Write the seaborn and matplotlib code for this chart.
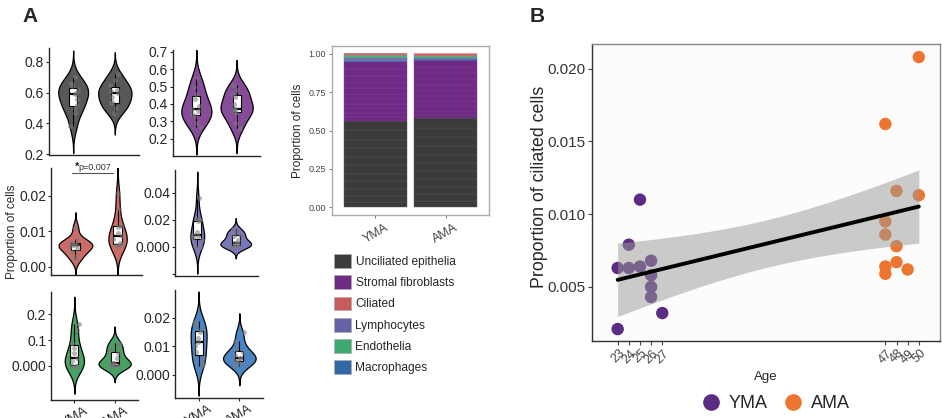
import numpy as np
import pandas as pd
import seaborn as sns
import matplotlib.pyplot as plt
from matplotlib.lines import Line2D
from matplotlib.patches import Patch

sns.set_style("ticks")
plt.rcParams['font.family'] = ['Liberation Sans', 'DejaVu Sans']

groups = ["YMA", "AMA"]
cell_types = ["Unciliated epithelia", "Stromal fibroblasts", "Ciliated",
              "Lymphocytes", "Endothelia", "Macrophages"]

# per-sample proportions (11 YMA, 11 AMA samples)
unciliated_yma = [0.38, 0.47, 0.50, 0.52, 0.56, 0.59, 0.60, 0.62, 0.64, 0.66, 0.70]
unciliated_ama = [0.47, 0.50, 0.53, 0.54, 0.57, 0.60, 0.61, 0.62, 0.65, 0.68, 0.72]
stromal_yma = [0.27, 0.29, 0.33, 0.34, 0.36, 0.37, 0.39, 0.43, 0.46, 0.50, 0.55]
stromal_ama = [0.26, 0.29, 0.35, 0.36, 0.37, 0.37, 0.40, 0.44, 0.46, 0.48, 0.51]
lympho_yma = [0.000, 0.001, 0.005, 0.007, 0.008, 0.009, 0.011, 0.019, 0.020, 0.021, 0.036]
lympho_ama = [0.000, 0.000, 0.001, 0.002, 0.003, 0.003, 0.005, 0.008, 0.009, 0.011, 0.013]
endo_yma = [0.000, 0.000, 0.000, 0.005, 0.020, 0.030, 0.050, 0.070, 0.090, 0.140, 0.160]
endo_ama = [0.000, 0.000, 0.002, 0.005, 0.010, 0.010, 0.030, 0.050, 0.060, 0.080, 0.090]
macro_yma = [0.003, 0.004, 0.006, 0.008, 0.010, 0.0115, 0.013, 0.015, 0.016, 0.018, 0.019]
macro_ama = [0.003, 0.004, 0.005, 0.005, 0.006, 0.006, 0.007, 0.008, 0.009, 0.012, 0.015]

# ciliated proportion with donor age (panel B)
ages_yma = [23, 23, 24, 24, 25, 25, 26, 26, 26, 26, 27]
ciliated_yma = [0.0063, 0.0021, 0.0079, 0.0063, 0.0110, 0.0064, 0.0068, 0.0058, 0.0050, 0.0043, 0.0032]
ages_ama = [47, 47, 47, 47, 47, 48, 48, 48, 49, 50, 50]
ciliated_ama = [0.0162, 0.0095, 0.0086, 0.0064, 0.0059, 0.0116, 0.0078, 0.0067, 0.0062, 0.0208, 0.0113]

# overall composition per group (stacked bar), same order as cell_types
comp_yma = [0.564, 0.386, 0.007, 0.014, 0.017, 0.012]
comp_ama = [0.580, 0.381, 0.012, 0.007, 0.012, 0.008]
stack_order = ["Unciliated epithelia", "Stromal fibroblasts", "Macrophages",
               "Lymphocytes", "Endothelia", "Ciliated"]

bar_colors = {"Unciliated epithelia": "#3B3B3B", "Stromal fibroblasts": "#6E2A84",
              "Ciliated": "#C85B5B", "Lymphocytes": "#6662A8",
              "Endothelia": "#3DAA73", "Macrophages": "#3467A8"}
violin_colors = {"Unciliated epithelia": "#585858", "Stromal fibroblasts": "#874C99",
                 "Ciliated": "#CC6B67", "Lymphocytes": "#7A78B8",
                 "Endothelia": "#46A163", "Macrophages": "#4B85C3"}

samples = {
    "Unciliated epithelia": (unciliated_yma, unciliated_ama),
    "Stromal fibroblasts": (stromal_yma, stromal_ama),
    "Ciliated": (ciliated_yma, ciliated_ama),
    "Lymphocytes": (lympho_yma, lympho_ama),
    "Endothelia": (endo_yma, endo_ama),
    "Macrophages": (macro_yma, macro_ama),
}

rows = []
for ct, (yv, av) in samples.items():
    for v in yv:
        rows.append((ct, "YMA", v))
    for v in av:
        rows.append((ct, "AMA", v))
df = pd.DataFrame(rows, columns=["cell_type", "group", "value"])

W, H = 942, 418
fig = plt.figure(figsize=(W / 100, H / 100), dpi=100)


def add_ax(l, t, r, b):
    return fig.add_axes([l / W, 1 - b / H, (r - l) / W, (b - t) / H])


def violin_panel(box, ct, ylim, ticks, labels, bottom=False):
    ax = add_ax(*box)
    d = df[df.cell_type == ct]
    sns.violinplot(data=d, x="group", y="value", order=groups, color=violin_colors[ct],
                   inner=None, cut=3, density_norm="area", width=0.8, linewidth=0.9,
                   linecolor="black", saturation=1, ax=ax)
    sns.boxplot(data=d, x="group", y="value", order=groups, color="white", linecolor="black",
                width=0.2, showfliers=False, showcaps=False, linewidth=0.8, saturation=1,
                medianprops={"linewidth": 1.6}, ax=ax)
    sns.stripplot(data=d, x="group", y="value", order=groups, color="#7a7a7a", alpha=0.55,
                  size=3.6, jitter=0.12, ax=ax)
    ax.set_xlim(-0.58, 1.58)
    ax.set_ylim(*ylim)
    ax.set_yticks(ticks)
    ax.set_yticklabels(labels, fontsize=10)
    ax.set_xlabel("")
    ax.set_ylabel("")
    sns.despine(ax=ax)
    ax.tick_params(length=2.5, width=0.8, pad=1)
    for s in ["left", "bottom"]:
        ax.spines[s].set_linewidth(1.0)
    if bottom:
        ax.set_xticks([0, 1])
        ax.set_xticklabels(groups, rotation=30, ha="center", fontsize=9.5)
    else:
        ax.set_xticks([])
    return ax


violin_panel((49, 48, 139, 155), "Unciliated epithelia", (0.194, 0.89),
             [0.2, 0.4, 0.6, 0.8], ["0.2", "0.4", "0.6", "0.8"])
violin_panel((173, 50, 260, 156), "Stromal fibroblasts", (0.10, 0.711),
             [0.2, 0.3, 0.4, 0.5, 0.6, 0.7], ["0.2", "0.3", "0.4", "0.5", "0.6", "0.7"])
ax_cil = violin_panel((51, 168, 142, 275), "Ciliated", (-0.0023, 0.0279),
                      [0.0, 0.01, 0.02], ["0.00", "0.01", "0.02"])
violin_panel((175, 170, 258, 276), "Lymphocytes", (-0.0215, 0.057),
             [-0.02, 0.0, 0.02, 0.04], ["", "0.000", "0.02", "0.04"])
violin_panel((51, 292, 138, 400), "Endothelia", (-0.131, 0.285),
             [0.0, 0.1, 0.2], ["0.000", "0.1", "0.2"], bottom=True)
violin_panel((175, 290, 263, 398), "Macrophages", (-0.0081, 0.0298),
             [0.0, 0.01, 0.02], ["0.000", "0.01", "0.02"], bottom=True)

# significance bar on ciliated panel
ax_cil.plot([-0.08, 0.88], [0.0265, 0.0265], color="#555555", lw=0.8, clip_on=False)
ax_cil.text(-0.02, 0.0268, "*", fontsize=8, fontweight="bold", ha="left", va="bottom")
ax_cil.text(0.07, 0.0268, "p=0.007", fontsize=6.5, ha="left", va="bottom", color="#333333")

fig.text(12 / W, 1 - 232 / H, "Proportion of cells", rotation=90, ha="center", va="center",
         fontsize=8.5)

# stacked composition bar
axs = add_ax(332, 46, 489, 215)
comp = {"YMA": dict(zip(cell_types, comp_yma)), "AMA": dict(zip(cell_types, comp_ama))}
for gi, g in enumerate(groups):
    bottom_val = 0.0
    for ct in stack_order:
        vals = np.array(samples[ct][gi], dtype=float) + 1e-4
        pieces = comp[g][ct] * vals / vals.sum()
        axs.bar(np.full(len(pieces), gi), pieces, width=0.91,
                bottom=bottom_val + np.concatenate([[0], np.cumsum(pieces)[:-1]]),
                color=bar_colors[ct], edgecolor=sns.light_palette(bar_colors[ct], 8)[6],
                linewidth=0.3)
        bottom_val += comp[g][ct]
axs.set_xlim(-0.62, 1.62)
axs.set_ylim(-0.05, 1.05)
axs.set_yticks([0, 0.25, 0.5, 0.75, 1.0])
axs.set_yticklabels(["0.00", "0.25", "0.50", "0.75", "1.00"], fontsize=6.5, color="#444444")
axs.set_xticks([0, 1])
axs.set_xticklabels(groups, rotation=30, ha="center", fontsize=9, color="#444444")
axs.set_ylabel("Proportion of cells", fontsize=8.5, labelpad=3)
axs.tick_params(length=2.5, color="#666666", width=0.6, pad=2)
for s in axs.spines.values():
    s.set_color("#aaaaaa")
    s.set_linewidth(1.0)

legend_handles = [Patch(facecolor=bar_colors[ct], edgecolor="#aaaaaa", linewidth=0.5, label=ct)
                  for ct in cell_types]
fig.legend(handles=legend_handles, loc="upper left", bbox_to_anchor=(334 / W, 1 - 254 / H),
           frameon=False, fontsize=8.6, handlelength=1.45, handleheight=1.4,
           labelspacing=0.62, handletextpad=0.35, borderaxespad=0, borderpad=0)

# panel B: ciliated proportion vs age
axb = add_ax(592, 44, 940, 341)
axb.set_facecolor("#FCFCFA")
dfb = pd.DataFrame({"Age": ages_yma + ages_ama,
                    "Ciliated": ciliated_yma + ciliated_ama,
                    "Group": ["YMA"] * len(ages_yma) + ["AMA"] * len(ages_ama)})
palette = {"YMA": "#5B2C83", "AMA": "#EC7630"}
sns.scatterplot(data=dfb, x="Age", y="Ciliated", hue="Group", palette=palette, s=80,
                edgecolor="none", legend=False, ax=axb, zorder=2)
sns.regplot(data=dfb, x="Age", y="Ciliated", scatter=False, ci=None, color="black",
            line_kws={"lw": 2.8, "zorder": 4}, ax=axb)

# 95% confidence band of the linear fit (t-based, like ggplot's geom_smooth)
x = dfb["Age"].to_numpy(float)
y = dfb["Ciliated"].to_numpy(float)
slope, intercept = np.polyfit(x, y, 1)
resid = y - (slope * x + intercept)
n = len(x)
s_err = np.sqrt((resid ** 2).sum() / (n - 2))
grid = np.linspace(x.min(), x.max(), 100)
half = 2.086 * s_err * np.sqrt(1 / n + (grid - x.mean()) ** 2 / ((x - x.mean()) ** 2).sum())
fit = slope * grid + intercept
axb.fill_between(grid, fit - half, fit + half, color="#999a97", alpha=0.5, lw=0, zorder=3)

axb.set_xlim(20.7, 51.9)
axb.set_ylim(0.00128, 0.0217)
ages = sorted(set(ages_yma + ages_ama))
axb.set_xticks(ages)
axb.set_xticklabels([str(a) for a in ages], rotation=45, fontsize=9, color="#444444")
axb.set_yticks([0.005, 0.010, 0.015, 0.020])
axb.set_yticklabels(["0.005", "0.010", "0.015", "0.020"], fontsize=11, color="#333333")
axb.set_xlabel("Age", fontsize=9.5)
axb.set_ylabel("Proportion of ciliated cells", fontsize=12.8)
axb.yaxis.set_label_coords(-0.127, 0.52)
axb.tick_params(length=3, width=0.8, color="#444444", pad=1.5)
axb.spines["left"].set_color("#333333")
axb.spines["bottom"].set_color("#333333")
axb.spines["top"].set_color("#888888")
axb.spines["right"].set_color("#888888")
for s in axb.spines.values():
    s.set_linewidth(1.0)

handles_b = [Line2D([], [], marker="o", ls="none", markersize=12, color=palette[g],
                    markeredgecolor="none", label=g) for g in groups]
fig.legend(handles=handles_b, loc="center", bbox_to_anchor=(776 / W, 1 - 404 / H), ncol=2,
           frameon=False, fontsize=13, handlelength=1.0, handletextpad=0.5,
           columnspacing=0.9)

fig.text(30 / W, 1 - 17 / H, "A", fontsize=15, fontweight="bold", ha="center", va="center")
fig.text(537 / W, 1 - 17 / H, "B", fontsize=15, fontweight="bold", ha="center", va="center")

fig.savefig("out.png", dpi=100)
